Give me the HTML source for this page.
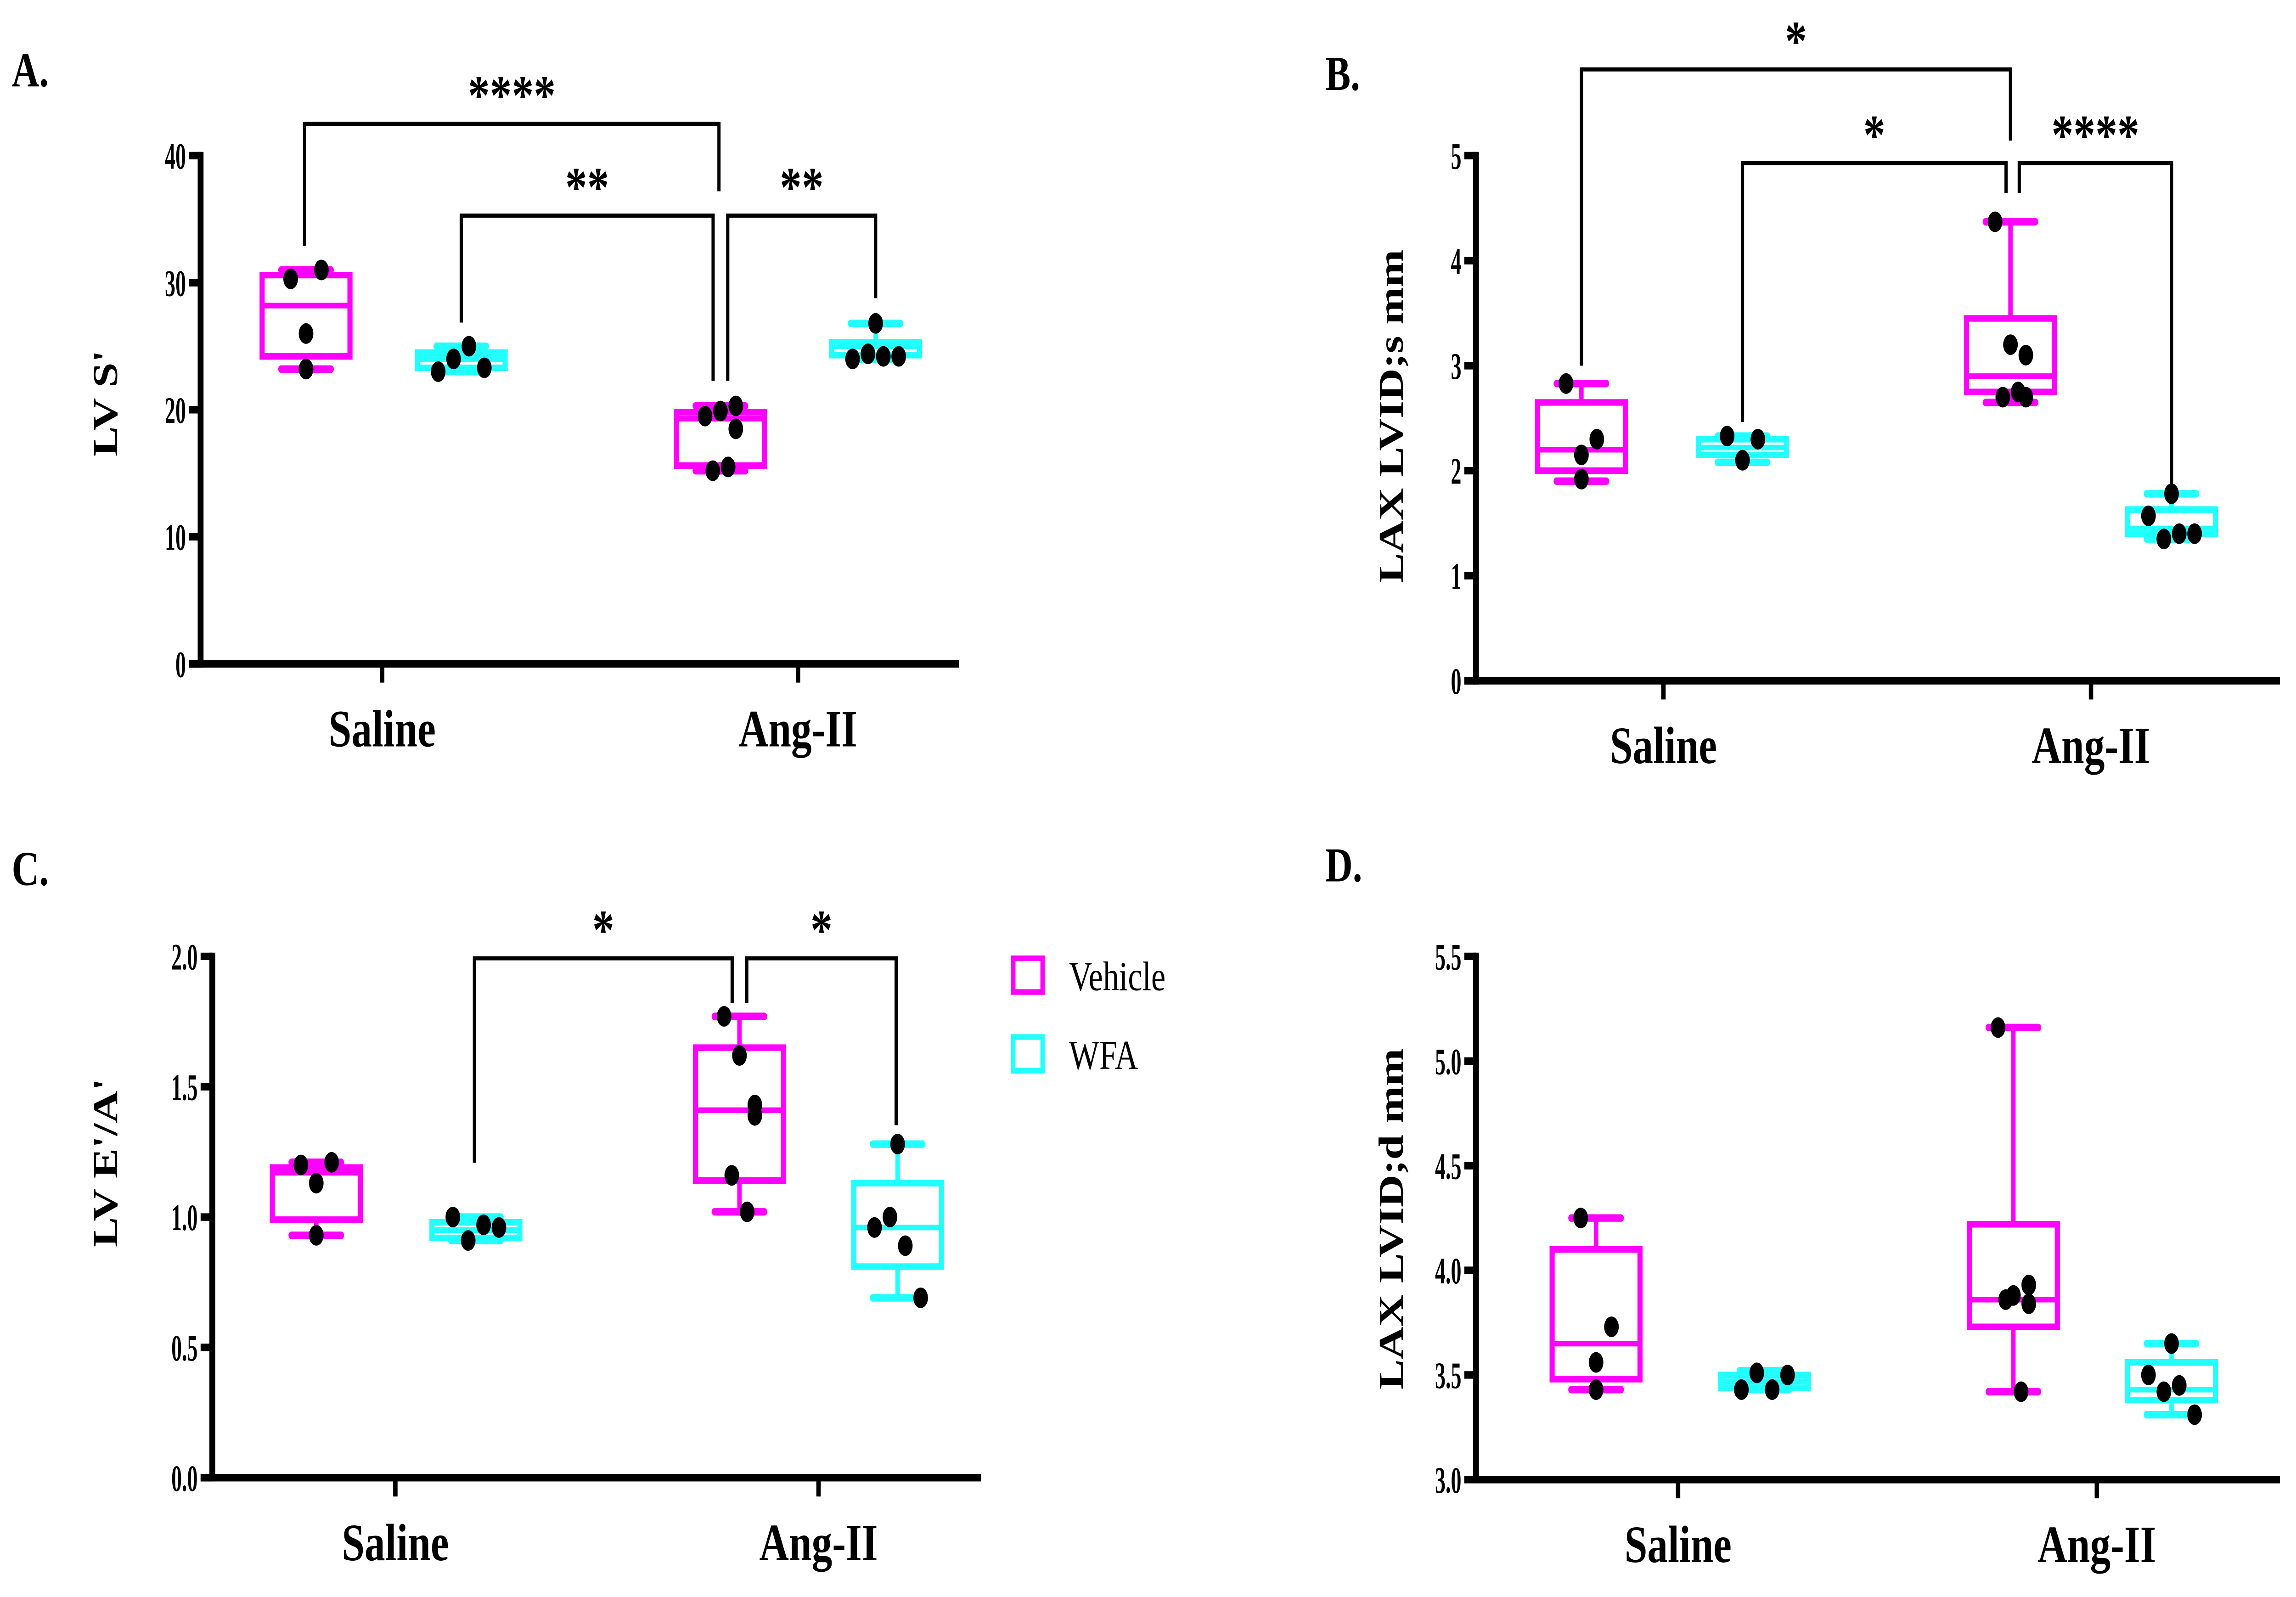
<!DOCTYPE html>
<html><head><meta charset="utf-8"><style>
html,body{margin:0;padding:0;background:#fff;width:100%;height:100%;overflow:hidden}
svg{display:block;width:100vw;height:100vh}
text{font-family:"Liberation Serif",serif;font-weight:bold;fill:#000}
</style></head><body>
<svg id="fig" viewBox="0 0 1568 851.6" preserveAspectRatio="none" xmlns="http://www.w3.org/2000/svg"><g id="root"></g></svg>
<script>
// ---- Panel A data: LV S'
const aTicks=[0,10,20,30,40];
const aMagSal=[30.3,31,26,23.2], aCyaSal=[23,24,25,23.3], aMagAng=[19.5,19.9,20.3,18.5,15.2,15.5], aCyaAng=[26.8,24,24.4,24.2,24.2];
const aBoxes=[[23.2,24.2,28.2,30.6,31],[23,23.3,24,24.5,25],[15.2,15.6,19.3,19.8,20.3],[24,24.3,25,25.3,26.8]];
// ---- Panel B data: LAX LVID;s
const bTicks=[0,1,2,3,4,5];
const bMagSal=[2.83,2.3,2.15,1.92], bCyaSal=[2.33,2.1,2.3], bMagAng=[4.37,3.2,3.1,2.7,2.7,2.75], bCyaAng=[1.78,1.57,1.35,1.4,1.4];
const bBoxes=[[1.9,2.0,2.2,2.65,2.83],[2.08,2.15,2.22,2.3,2.33],[2.65,2.75,2.9,3.45,4.37],[1.35,1.4,1.45,1.63,1.78]];
// ---- Panel C data: LV E'/A'
const cTicks=[0,0.5,1,1.5,2];
const cMagSal=[1.2,1.21,1.13,0.93], cCyaSal=[1.0,0.91,0.97,0.96], cMagAng=[1.77,1.62,1.43,1.39,1.16,1.02], cCyaAng=[1.28,0.96,1.0,0.89,0.69];
const cBoxes=[[0.93,0.99,1.17,1.19,1.21],[0.91,0.92,0.95,0.98,1.0],[1.02,1.14,1.41,1.65,1.77],[0.69,0.81,0.96,1.13,1.28]];
// ---- Panel D data: LAX LVID;d
const dTicks=[3.0,3.5,4.0,4.5,5.0,5.5];
const dMagSal=[4.25,3.73,3.56,3.43], dCyaSal=[3.43,3.51,3.43,3.5], dMagAng=[5.16,3.88,3.93,3.84,3.86,3.42], dCyaAng=[3.65,3.5,3.42,3.45,3.31];
const dBoxes=[[3.43,3.48,3.65,4.1,4.25],[3.43,3.44,3.47,3.5,3.52],[3.42,3.73,3.86,4.22,5.16],[3.31,3.38,3.43,3.56,3.65]];
const groups=["Saline","Ang-II"];
const jit4=[-1,1,0,0], jit3=[-1,0,1], jit6=[-1,0,1,1,-0.5,0.5], jit5=[0,-1.5,-0.5,0.5,1.5];

const NS="http://www.w3.org/2000/svg", svg=document.getElementById('root');
function el(tag,attrs,parent,txt){const e=document.createElementNS(NS,tag);for(const k in attrs)e.setAttribute(k,attrs[k]);if(txt!==undefined)e.textContent=txt;(parent||svg).appendChild(e);return e;}
const MAG="#ff00ff", CYA="#22ffff";

function panel(p){
  const g=el('g',{});
  
  
  const ticks=p.ticks, lo=ticks[0], hi=ticks[ticks.length-1];
  const Y=v=>p.y0-(v-lo)/(hi-lo)*(p.y0-p.y1);
  const ya=el('line',{x1:p.x0,y1:p.y1-2,x2:p.x0,y2:p.y0+2,stroke:'#000','stroke-width':4},g);
  
  const xa=el('line',{x1:p.x0-8,y1:p.y0,x2:p.xEnd,y2:p.y0,stroke:'#000','stroke-width':4},g);
  
  ticks.forEach(t=>{
    el('line',{x1:p.x0-8,y1:Y(t),x2:p.x0,y2:Y(t),stroke:'#000','stroke-width':4},g);
    const tx=p.x0-10, ty=Y(t);
    const tl=el('text',{x:0,y:7,'text-anchor':'end','font-size':20,transform:`translate(${tx},${ty}) scale(0.72,1)`},g,p.fmt(t));
    
  });
  groups.forEach((gname,i)=>{
    el('line',{x1:p.gx[i],y1:p.y0,x2:p.gx[i],y2:p.y0+10,stroke:'#000','stroke-width':3},g);
    const xl=el('text',{x:p.gx[i],y:p.y0+44,'text-anchor':'middle','font-size':28},g,gname);
    
  });
  const yt=el('text',{x:0,y:0,'text-anchor':'middle','font-size':24,transform:`translate(${p.titleX},${p.titleY}) rotate(-90)`},g,p.title);
  
  const pl=el('text',{x:p.lx,y:p.ly,'font-size':26},g,p.id+'.');
  
  p.boxes.forEach((b,i)=>{
    const cx=p.bx[i], col=i%2?CYA:MAG, w=30;
    const bg=el('g',{},g);
    
    
    el('line',{x1:cx,y1:Y(b[0]),x2:cx,y2:Y(b[1]),stroke:col,'stroke-width':3},bg);
    el('line',{x1:cx,y1:Y(b[3]),x2:cx,y2:Y(b[4]),stroke:col,'stroke-width':3},bg);
    el('line',{x1:cx-17,y1:Y(b[0]),x2:cx+17,y2:Y(b[0]),stroke:col,'stroke-width':4,'stroke-linecap':'round'},bg);
    el('line',{x1:cx-17,y1:Y(b[4]),x2:cx+17,y2:Y(b[4]),stroke:col,'stroke-width':4,'stroke-linecap':'round'},bg);
    el('rect',{x:cx-w,y:Y(b[3]),width:2*w,height:Math.max(Y(b[1])-Y(b[3]),1),fill:'none',stroke:col,'stroke-width':3.5},bg);
    el('line',{x1:cx-w,y1:Y(b[2]),x2:cx+w,y2:Y(b[2]),stroke:col,'stroke-width':3},bg);
    const pts=p.pts[i], jt=pts.length===6?jit6:pts.length===5?jit5:pts.length===3?jit3:(i%2?[-1.5,-0.5,0.5,1.5]:jit4);
    pts.forEach((v,k)=>{
      const c=el('ellipse',{cx:cx+jt[k]*10.5,cy:Y(v),rx:5,ry:5.5,fill:'#000'},bg);
      
    });
  });
  (p.br||[]).forEach(br=>{
    const bgr=el('g',{},g);
    
    el('polyline',{points:`${br[0]},${br[3]} ${br[0]},${br[2]} ${br[1]},${br[2]} ${br[1]},${br[4]}`,fill:'none',stroke:'#000','stroke-width':2.2},bgr);
    el('text',{x:(br[0]+br[1])/2,y:br[2]-5,'text-anchor':'middle','font-size':30},bgr,br[5]);
  });
}
const f0=t=>String(t), f1=t=>t.toFixed(1);
panel({id:'A',x0:137,xEnd:655,y0:354,y1:83,ticks:aTicks,fmt:f0,gx:[261,545],bx:[209,315,492,598],
  boxes:aBoxes,pts:[aMagSal,aCyaSal,aMagAng,aCyaAng],title:"LV S'",titleX:80,titleY:215,lx:8,ly:46,
  br:[[208,491,66,131,102,'****'],[315,487,115,172,203,'**'],[497,598,115,203,159,'**']]});
panel({id:'B',x0:1008,xEnd:1557,y0:363,y1:83,ticks:bTicks,fmt:f0,gx:[1136,1428],bx:[1080,1190,1373,1483],
  boxes:bBoxes,pts:[bMagSal,bCyaSal,bMagAng,bCyaAng],title:"LAX LVID;s mm",titleX:958,titleY:222,lx:905,ly:48,
  br:[[1080,1373,37,195,75,'*'],[1190,1370,87,225,103,'*'],[1379,1483,87,103,258,'****']]});
panel({id:'C',x0:145,xEnd:670,y0:788,y1:510,ticks:cTicks,fmt:f1,gx:[270,559],bx:[216,325,505,613],
  boxes:cBoxes,pts:[cMagSal,cCyaSal,cMagAng,cCyaAng],title:"LV E'/A'",titleX:80,titleY:620,lx:8,ly:472,
  br:[[324,500,511,620,535,'*'],[510,612,511,535,600,'*']]});
panel({id:'D',x0:1008,xEnd:1557,y0:789,y1:510,ticks:dTicks,fmt:f1,gx:[1146,1432],bx:[1090,1205,1375,1483],
  boxes:dBoxes,pts:[dMagSal,dCyaSal,dMagAng,dCyaAng],title:"LAX LVID;d mm",titleX:958,titleY:650,lx:905,ly:470});
const lg=el('g',{});

[['Vehicle',MAG,520],['WFA',CYA,562]].forEach(e=>{
  const it=el('g',{},lg);
  
  el('rect',{x:692,y:e[2]-9,width:20,height:18,fill:'none',stroke:e[1],'stroke-width':3},it);
  el('text',{x:730,y:e[2]+8,'font-size':22,style:'font-weight:normal'},it,e[0]);
});
</script>
</body></html>
